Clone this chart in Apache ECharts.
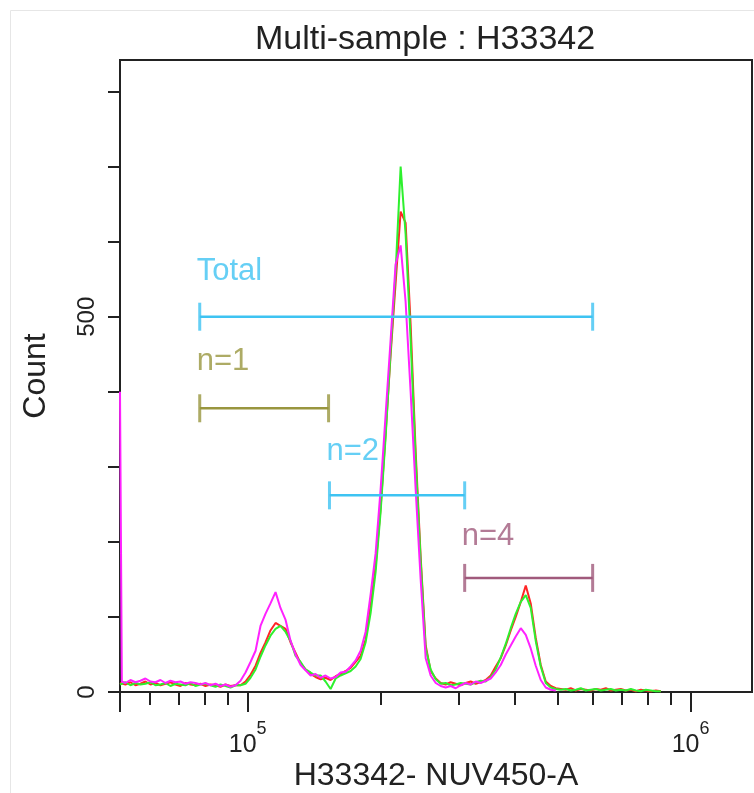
<!DOCTYPE html>
<html>
<head>
<meta charset="utf-8">
<script src="https://cdn.jsdelivr.net/npm/echarts@6/dist/echarts.min.js"></script>
<style>
html,body{margin:0;padding:0;background:#fff;}
#chart{width:754px;height:793px;}
</style>
</head>
<body>
<div id="chart"></div>
<script>
// ---- axis ranges & ticks ----
const xMin = 51500;
const xMax = 1376000;
const yMin = 0;
const yMax = 842;
const xMajorTicks = [51500, 100000, 1000000];
const xMinorTicks = [60000, 70000, 80000, 90000, 200000, 300000, 400000, 500000, 600000, 700000, 800000, 900000];
const xLabelValues = [100000, 1000000];
const yTicks = [0, 100, 200, 300, 400, 500, 600, 700, 800];
const yLabelValues = [0, 500];

// ---- histogram bins (channel positions, H33342- NUV450-A) ----
const xValues = [51500, 52000, 52970, 54370, 55800, 57270, 58780, 60330, 61920, 63550,
  65230, 66940, 68710, 70520, 72380, 74290, 76240, 78250, 80310, 82430,
  84600, 86830, 89120, 91470, 93880, 96360, 98890, 101500, 104200, 106900,
  109700, 112600, 115600, 118600, 121800, 125000, 128300, 131700, 135100, 138700,
  142300, 146100, 149900, 153900, 158000, 162100, 166400, 170800, 175300, 179900,
  184600, 189500, 194500, 199600, 204900, 210300, 215800, 221500, 227300, 233300,
  239500, 245800, 252300, 258900, 265800, 272800, 279900, 287300, 294900, 302700,
  310600, 318800, 327200, 335900, 344700, 353800, 363100, 372700, 382500, 392600,
  402900, 413600, 424500, 435600, 447100, 458900, 471000, 483400, 496200, 509200,
  522600, 536400, 550600, 565100, 580000, 595200, 610900, 627000, 643600, 660500,
  677900, 695800, 714100, 733000, 752300, 772100, 792400, 813300, 834800, 856800];

const redCounts = [12, 12,
  10, 13, 9, 11, 14, 10, 12, 9, 11, 13, 10, 8, 12, 10, 9, 11, 8, 10, 9, 7, 10, 8, 9,
  9,
  14, 23, 35, 52, 66, 82, 92, 88, 84, 66, 52, 38, 30, 24, 20, 17, 19, 16, 21, 24, 28, 32, 40, 48,
  70, 115, 168, 245, 345, 450, 545, 640, 625, 490, 320, 180, 62, 28, 18, 12, 10, 13, 11, 9,
  12, 14, 11, 13, 16, 22, 34, 45, 62, 82, 100, 120, 142, 118, 72, 36, 14, 8, 5,
  4, 3, 5, 2, 4, 3, 2, 4, 3, 5, 2, 3, 4, 2, 3, 1, 3, 2, 1, 2, 1];

const greenCounts = [10, 11,
  13, 9, 12, 10, 11, 13, 9, 10, 12, 8, 11, 10, 9, 12, 8, 10, 11, 9, 7, 10, 8, 6, 9,
  9,
  11, 19, 30, 47, 62, 75, 84, 88, 80, 68, 48, 40, 30, 26, 22, 22, 14, 4, 18, 22, 25, 28, 34, 44,
  66, 105, 160, 240, 340, 455, 560, 700, 610, 470, 310, 175, 58, 30, 17, 11, 12, 9, 10, 12,
  11, 10, 13, 15, 14, 20, 30, 46, 64, 85, 104, 120, 129, 112, 68, 34, 12, 6, 4,
  3, 4, 2, 3, 5, 2, 3, 4, 2, 3, 4, 2, 3, 2, 4, 2, 1, 3, 2, 1, 1];

const magentaCounts = [400, 14,
  12, 16, 13, 15, 18, 14, 13, 16, 12, 15, 13, 14, 11, 13, 12, 10, 12, 9, 11, 8, 10, 7, 9,
  15,
  26, 40, 55, 88, 104, 118, 133, 112, 96, 68, 50, 36, 29, 22, 24, 19, 22, 18, 20, 26, 27, 34, 42, 55,
  80, 130, 185, 270, 370, 470, 570, 595, 520, 400, 270, 150, 45, 22, 12, 8, 6, 8, 5, 9,
  12, 10, 14, 12, 15, 18, 26, 36, 50, 62, 74, 85, 76, 58, 35, 16, 6, 3, 2];

// ---- gates ----
const gateNames = ['Total', 'n=1', 'n=2', 'n=4'];
const gateStart = [77950, 77950, 153000, 309000];
const gateEnd = [601000, 152300, 309000, 601000];
const gateLevel = [500, 378, 262, 152];
const gateLabelLevel = [560, 440, 320, 207];

// ---- styling (not data) ----
const FONT = '"Liberation Sans", Arial, sans-serif';
const INK = '#222222';
const seriesColors = ['#ff2626', '#2ef02e', '#ff22ff'];
const gateColors = ['#3ec3f2', '#99963f', '#3ec3f2', '#a05a7c'];

function pairs(vals) {
  return vals.map(function (v, i) { return [xValues[i], v]; });
}

const series = [];
[redCounts, greenCounts, magentaCounts].forEach(function (vals, i) {
  series.push({
    type: 'line',
    data: pairs(vals),
    symbol: 'none',
    silent: true,
    z: 3 + i,
    lineStyle: { color: seriesColors[i], width: 2 }
  });
});

gateNames.forEach(function (name, i) {
  series.push({
    type: 'line',
    data: [[gateStart[i], gateLevel[i]], [gateEnd[i], gateLevel[i]]],
    symbol: 'none',
    silent: true,
    z: 6,
    lineStyle: { color: gateColors[i], width: 2.5 }
  });
  series.push({
    type: 'scatter',
    data: [[gateStart[i], gateLevel[i]], [gateEnd[i], gateLevel[i]]],
    symbol: 'rect',
    symbolSize: [3, 28],
    silent: true,
    z: 6,
    itemStyle: { color: gateColors[i] }
  });
  series.push({
    type: 'scatter',
    data: [[gateStart[i], gateLabelLevel[i]]],
    symbolSize: 0,
    silent: true,
    z: 7,
    label: {
      show: true,
      formatter: name,
      position: 'right',
      distance: -3,
      color: gateColors[i],
      fontFamily: FONT,
      fontSize: 31,
      backgroundColor: 'rgba(255,255,255,0.6)'
    }
  });
});

const chart = echarts.init(document.getElementById('chart'), null, { renderer: 'canvas' });
chart.setOption({
  animation: false,
  backgroundColor: '#ffffff',
  graphic: [{
    type: 'rect',
    shape: { x: 10.5, y: 10.5, width: 800, height: 800 },
    style: { fill: 'none', stroke: '#e6e6e6', lineWidth: 1 },
    silent: true
  }],
  title: {
    text: 'Multi-sample : H33342',
    left: 250,
    top: 18,
    textStyle: { fontFamily: FONT, fontSize: 34, fontWeight: 'normal', color: INK }
  },
  grid: {
    left: 120, right: 2, top: 60, bottom: 101,
    outerBoundsMode: 'none',
    containLabel: false,
    show: true, borderColor: INK, borderWidth: 2, backgroundColor: 'transparent'
  },
  xAxis: [{
    type: 'log',
    logBase: 10,
    min: xMin,
    max: xMax,
    position: 'bottom',
    axisLine: { show: true, lineStyle: { color: INK, width: 2 } },
    axisTick: { show: true, customValues: xMinorTicks, length: 13, lineStyle: { color: INK, width: 2 } },
    axisLabel: { show: false },
    splitLine: { show: false },
    name: 'H33342- NUV450-A',
    nameLocation: 'middle',
    nameGap: 68,
    nameTextStyle: { fontFamily: FONT, fontSize: 32, color: INK }
  }, {
    type: 'log',
    logBase: 10,
    min: xMin,
    max: xMax,
    position: 'bottom',
    axisLine: { show: false },
    axisTick: { show: true, customValues: xMajorTicks, length: 20, lineStyle: { color: INK, width: 2 } },
    axisLabel: {
      show: true,
      customValues: xLabelValues,
      margin: 28,
      color: INK,
      fontFamily: FONT,
      formatter: function (v) { return '{b|10}{s|' + Math.round(Math.log10(v)) + '}'; },
      rich: {
        b: { fontSize: 25, fontFamily: FONT, color: INK, verticalAlign: 'bottom', lineHeight: 38 },
        s: { fontSize: 18, fontFamily: FONT, color: INK, verticalAlign: 'top', lineHeight: 38 }
      }
    },
    splitLine: { show: false }
  }],
  yAxis: {
    type: 'value',
    min: yMin,
    max: yMax,
    axisLine: { show: true, lineStyle: { color: INK, width: 2 } },
    axisTick: { show: true, customValues: yTicks, length: 12, lineStyle: { color: INK, width: 2 } },
    axisLabel: { show: true, customValues: yLabelValues, rotate: 90, margin: 21, fontSize: 24, fontFamily: FONT, color: INK },
    splitLine: { show: false },
    name: 'Count',
    nameLocation: 'middle',
    nameRotate: 90,
    nameGap: 68,
    nameTextStyle: { fontFamily: FONT, fontSize: 32, color: INK }
  },
  series: series
});
</script>
</body>
</html>
